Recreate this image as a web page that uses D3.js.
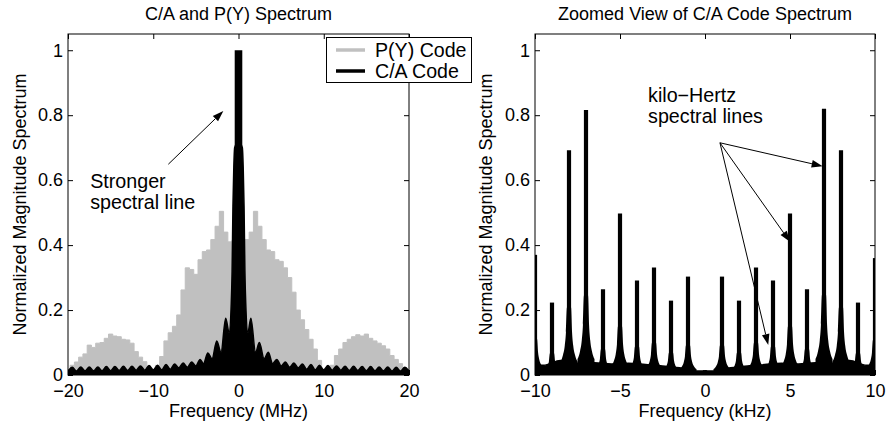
<!DOCTYPE html>
<html>
<head>
<meta charset="utf-8">
<script src="https://cdn.jsdelivr.net/npm/d3@7"></script>
<style>
  body { margin: 0; background: #fff; }
  svg text { font-family: "Liberation Sans", Arial, Helvetica, sans-serif; fill: #000; }
</style>
</head>
<body>
<svg id="vis" width="887" height="425"></svg>
<script>
// ---- Left panel data: C/A and P(Y) spectrum (MHz) ----------------------------------------------
var pyFreq = d3.range(-20, 20.001, 0.5);                          // sampling grid of the P(Y) envelope
var pyLevel = [0.015, 0.03, 0.04, 0.055, 0.065, 0.092, 0.085, 0.098, 0.1, 0.113,
  0.126, 0.12, 0.118, 0.11, 0.108, 0.098, 0.072, 0.055, 0.041, 0.022,
  0.01, 0.03, 0.057, 0.105, 0.13, 0.15, 0.185, 0.262, 0.33, 0.325,
  0.31, 0.355, 0.38, 0.385, 0.417, 0.458, 0.504, 0.44, 0.41, 0.415,
  0.42,
  0.415, 0.417, 0.44, 0.504, 0.458, 0.417, 0.385, 0.38, 0.355, 0.35,
  0.33, 0.3, 0.255, 0.2, 0.17, 0.14, 0.11, 0.08, 0.045, 0.015,
  0.012, 0.03, 0.06, 0.08, 0.1, 0.11, 0.118, 0.124, 0.12, 0.126,
  0.113, 0.105, 0.098, 0.09, 0.08, 0.06, 0.048, 0.035, 0.022, 0.015];

var caFreq = [-20, -19.5, -19, -18.5, -18, -17.5, -17, -16.5, -16, -15.5, -15, -14.5, -14, -13.5,
  -13, -12.5, -12, -11.5, -11, -10.5, -10, -9.5, -9, -8.5, -8, -7.5, -7, -6.5, -6, -5.5, -5,
  -4.5, -4.1, -3.6, -3.1, -2.55, -2.05, -1.5, -1.1, -0.85, -0.75, -0.65, -0.55, -0.45, 0,
  0.45, 0.55, 0.65, 0.75, 0.85, 1.1, 1.45, 2.0, 2.45, 3.0, 3.5, 4.0, 4.5, 5, 5.5, 6, 6.5, 7,
  7.5, 8, 8.5, 9, 9.5, 10, 10.5, 11, 11.5, 12, 12.5, 13, 13.5, 14, 14.5, 15, 15.5, 16, 16.5,
  17, 17.5, 18, 18.5, 19, 19.5, 20];
var caLevel = [0.012, 0.024, 0.012, 0.025, 0.013, 0.025, 0.013, 0.025, 0.013, 0.026, 0.013, 0.026,
  0.014, 0.027, 0.014, 0.027, 0.015, 0.028, 0.015, 0.029, 0.016, 0.03, 0.016, 0.032, 0.018,
  0.034, 0.022, 0.037, 0.024, 0.04, 0.028, 0.048, 0.035, 0.068, 0.05, 0.105, 0.07, 0.175,
  0.13, 0.22, 0.32, 0.52, 0.64, 0.7, 0.72,
  0.7, 0.64, 0.52, 0.32, 0.22, 0.13, 0.175, 0.07, 0.1, 0.05, 0.07, 0.035, 0.048, 0.028, 0.04,
  0.024, 0.037, 0.022, 0.034, 0.018, 0.032, 0.016, 0.03, 0.016, 0.029, 0.015, 0.028, 0.015,
  0.027, 0.014, 0.027, 0.014, 0.026, 0.013, 0.026, 0.013, 0.025, 0.013, 0.025, 0.012, 0.024,
  0.012, 0.024, 0.012];
var caLineFreq = 0, caLineLevel = 1.0;                                // the strong centre spectral line

// ---- Right panel data: zoomed C/A spectrum (kHz) -----------------------------------------------
var lineFreq   = [-10, -9, -8, -7, -6, -5, -4, -3, -2, -1, 0, 1, 2, 3, 4, 5, 6, 7, 8, 9, 10];
var lineHeight = [0.37, 0.223, 0.692, 0.816, 0.264, 0.497, 0.291, 0.331, 0.229, 0.303, 0.015,
  0.303, 0.229, 0.331, 0.291, 0.497, 0.264, 0.82, 0.692, 0.223, 0.36];
var troughFreq  = [-10, -9.5, -8.5, -7.5, -6.5, -5.5, -4.5, -3.5, -2.5, -1.5, -0.5,
  0.5, 1.5, 2.5, 3.5, 4.5, 5.5, 6.5, 7.5, 8.5, 9.5, 10];
var troughLevel = [0.03, 0.03, 0.045, 0.036, 0.038, 0.034, 0.036, 0.032, 0.028, 0.022, 0.012,
  0.012, 0.022, 0.028, 0.032, 0.036, 0.034, 0.038, 0.036, 0.045, 0.03, 0.03];
// shape of the skirt around each line (offset in kHz, fraction of line height)
var skirtOffset = [-0.5, -0.35, -0.25, -0.18, -0.12, 0, 0.12, 0.18, 0.25, 0.35, 0.5];
var skirtFrac   = [0.06, 0.09, 0.13, 0.19, 0.3, 0.3, 0.3, 0.19, 0.13, 0.09, 0.06];

var yTicks = [0, 0.2, 0.4, 0.6, 0.8, 1];

var svg = d3.select('#vis');
var fmt = d3.format('~g');

// Build one MATLAB-style axes box ///////////////////////////////////////////////////////////////
function makePanel(o) {
  var x = d3.scaleLinear().domain(o.xDomain).range([o.left, o.right]);
  var y = d3.scaleLinear().domain([0, 1.05]).range([o.bottom, o.top]);
  var g = svg.append('g');
  svg.append('clipPath').attr('id', o.id).append('rect')
    .attr('x', o.left).attr('y', o.top).attr('width', o.right - o.left).attr('height', o.bottom - o.top);
  var plot = g.append('g').attr('clip-path', 'url(#' + o.id + ')');

  function decorate() {
    var axes = [
      [d3.axisBottom(x).tickValues(o.xTicks).tickFormat(fmt).tickPadding(9), 0, o.bottom],
      [d3.axisTop(x).tickValues(o.xTicks).tickFormat(''), 0, o.top],
      [d3.axisLeft(y).tickValues(yTicks).tickFormat(fmt).tickPadding(5), o.left, 0],
      [d3.axisRight(y).tickValues(yTicks).tickFormat(''), o.right, 0]
    ];
    axes.forEach(function(a) {
      var ag = g.append('g').attr('transform', 'translate(' + a[1] + ',' + a[2] + ')')
        .call(a[0].tickSizeInner(-5).tickSizeOuter(0));
      ag.select('.domain').remove();
      ag.attr('font-size', 18).attr('font-family', null);
      ag.selectAll('line').attr('stroke', '#000');
    });
    g.append('rect').attr('x', o.left).attr('y', o.top)
      .attr('width', o.right - o.left).attr('height', o.bottom - o.top)
      .attr('fill', 'none').attr('stroke', '#000').attr('stroke-width', 1);
    g.append('text').attr('x', (o.left + o.right) / 2).attr('y', 20)
      .attr('text-anchor', 'middle').attr('font-size', 18).text(o.title);
    g.append('text').attr('x', (o.left + o.right) / 2).attr('y', 417)
      .attr('text-anchor', 'middle').attr('font-size', 18).text(o.xLabel);
    g.append('text').attr('transform', 'translate(' + o.yLabelX + ',' + (o.top + o.bottom) / 2 + ') rotate(-90)')
      .attr('text-anchor', 'middle').attr('font-size', 18).text('Normalized Magnitude Spectrum');
  }
  return { x: x, y: y, g: g, plot: plot, decorate: decorate };
}

function arrow(g, x1, y1, x2, y2) {
  var ang = Math.atan2(y2 - y1, x2 - x1), len = 11, hw = 3.8;
  var bx = x2 - len * Math.cos(ang), by = y2 - len * Math.sin(ang);
  g.append('line').attr('x1', x1).attr('y1', y1).attr('x2', bx).attr('y2', by)
    .attr('stroke', '#000').attr('stroke-width', 1);
  g.append('path').attr('fill', '#000')
    .attr('d', 'M' + x2 + ',' + y2 +
      'L' + (bx + hw * Math.sin(ang)) + ',' + (by - hw * Math.cos(ang)) +
      'L' + (bx - hw * Math.sin(ang)) + ',' + (by + hw * Math.cos(ang)) + 'Z');
}

// Left chart ////////////////////////////////////////////////////////////////////////////////////
var L = makePanel({ id: 'clipL', left: 68, right: 409, top: 34, bottom: 375,
  xDomain: [-20, 20], xTicks: [-20, -10, 0, 10, 20], yLabelX: 26,
  title: 'C/A and P(Y) Spectrum', xLabel: 'Frequency (MHz)' });

var pyArea = d3.area().curve(d3.curveStep)
  .x(function(d, i) { return L.x(pyFreq[i]) })
  .y0(L.y(0)).y1(function(d) { return L.y(d) });
L.plot.append('path').datum(pyLevel).attr('d', pyArea).attr('fill', '#c0c0c0')
  .attr('stroke', '#c0c0c0').attr('stroke-width', 1);

var caArea = d3.area().curve(d3.curveMonotoneX)
  .x(function(d, i) { return L.x(caFreq[i]) })
  .y0(L.y(0)).y1(function(d) { return L.y(d) });
L.plot.append('path').datum(caLevel).attr('d', caArea).attr('fill', '#000')
  .attr('stroke', '#000').attr('stroke-width', 1.5);
L.plot.append('line')
  .attr('x1', L.x(caLineFreq)).attr('x2', L.x(caLineFreq))
  .attr('y1', L.y(0)).attr('y2', L.y(caLineLevel))
  .attr('stroke', '#000').attr('stroke-width', 7.6);

L.decorate();

L.g.append('text').attr('font-size', 19.7).attr('x', L.x(-17.4))
  .selectAll('tspan').data(['Stronger', 'spectral line']).join('tspan')
  .attr('x', L.x(-17.4)).attr('y', function(d, i) { return L.y(i ? 0.511 : 0.576) })
  .text(function(d) { return d });
arrow(L.g, L.x(-8.23), L.y(0.649), L.x(-1.78), L.y(0.813));

// Legend
var leg = svg.append('g');
leg.append('rect').attr('x', 326.5).attr('y', 37.5).attr('width', 145).attr('height', 45)
  .attr('fill', '#fff').attr('stroke', '#000').attr('stroke-width', 1);
[['P(Y) Code', '#c0c0c0', 50, 57], ['C/A Code', '#000', 71, 78]].forEach(function(r) {
  leg.append('line').attr('x1', 336).attr('x2', 365).attr('y1', r[2]).attr('y2', r[2])
    .attr('stroke', r[1]).attr('stroke-width', 3.5);
  leg.append('text').attr('x', 375).attr('y', r[3]).attr('font-size', 19.6).text(r[0]);
});

// Right chart ///////////////////////////////////////////////////////////////////////////////////
var R = makePanel({ id: 'clipR', left: 535, right: 875, top: 34, bottom: 375,
  xDomain: [-10, 10], xTicks: [-10, -5, 0, 5, 10], yLabelX: 492,
  title: 'Zoomed View of C/A Code Spectrum', xLabel: 'Frequency (kHz)' });

var floorArea = d3.area().curve(d3.curveMonotoneX)
  .x(function(d, i) { return R.x(troughFreq[i]) })
  .y0(R.y(0)).y1(function(d) { return R.y(d) });
R.plot.append('path').datum(troughLevel).attr('d', floorArea).attr('fill', '#000')
  .attr('stroke', '#000').attr('stroke-width', 1.5);

var skirt = d3.area().curve(d3.curveMonotoneX)
  .x(function(d) { return R.x(d.f) }).y0(R.y(0)).y1(function(d) { return R.y(d.v) });
R.plot.selectAll('.skirt').data(lineFreq).join('path').attr('class', 'skirt')
  .attr('d', function(f, i) {
    return skirt(skirtOffset.map(function(off, j) { return { f: f + off, v: lineHeight[i] * skirtFrac[j] } }));
  })
  .attr('fill', '#000');
R.plot.selectAll('.sline').data(lineFreq).join('line').attr('class', 'sline')
  .attr('x1', function(d) { return R.x(d) }).attr('x2', function(d) { return R.x(d) })
  .attr('y1', R.y(0)).attr('y2', function(d, i) { return R.y(lineHeight[i]) })
  .attr('stroke', '#000').attr('stroke-width', 4.2);

R.decorate();

R.g.append('text').attr('font-size', 19.7)
  .selectAll('tspan').data(['kilo\u2212Hertz', 'spectral lines']).join('tspan')
  .attr('x', R.x(-3.35)).attr('y', function(d, i) { return R.y(i ? 0.776 : 0.84) })
  .text(function(d) { return d });
[[6.92, 0.643], [5.0, 0.41], [3.72, 0.092]].forEach(function(t) {
  arrow(R.g, R.x(0.88), R.y(0.715), R.x(t[0]), R.y(t[1]));
});
</script>
</body>
</html>
